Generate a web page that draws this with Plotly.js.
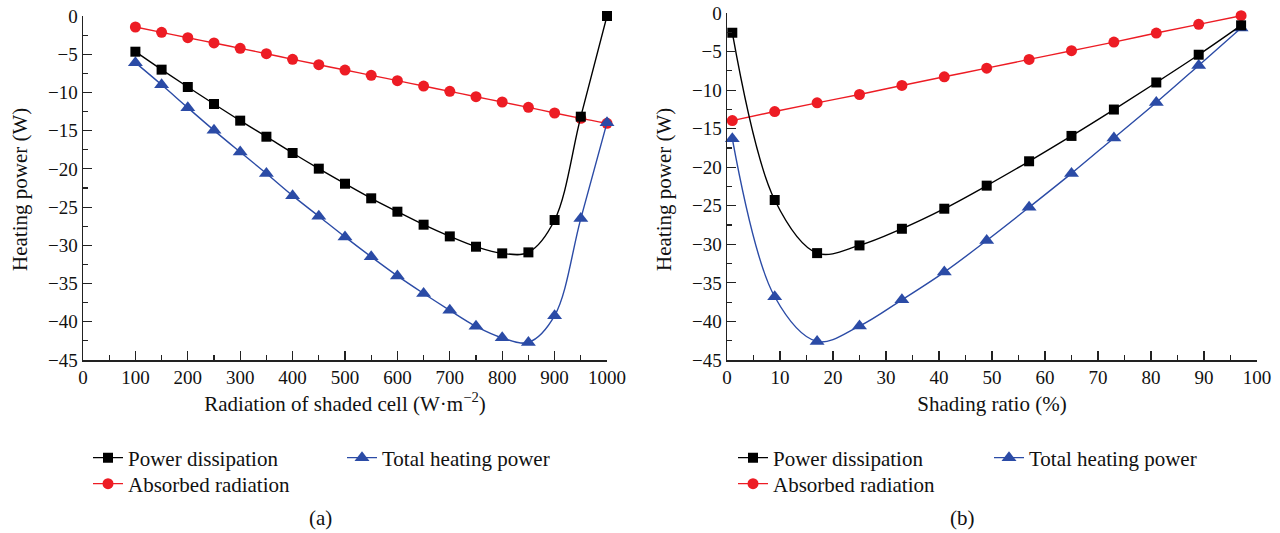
<!DOCTYPE html>
<html>
<head>
<meta charset="utf-8">
<script src="https://cdn.plot.ly/plotly-3.0.1.min.js"></script>
<style>html,body{margin:0;padding:0;background:#fff;}#chart{width:1280px;height:533px;}</style>
</head>
<body>
<div id="chart"></div>
<script>
// Panel (a): radiation of shaded cell (W/m2)
const radiationA = [100,150,200,250,300,350,400,450,500,550,600,650,700,750,800,850,900,950,1000];
const powerDissA = [-4.67,-7.02,-9.29,-11.51,-13.69,-15.79,-17.92,-19.97,-21.94,-23.85,-25.60,-27.30,-28.83,-30.18,-31.05,-30.92,-26.69,-13.17,0];
const absorbedA = [-1.44,-2.14,-2.84,-3.53,-4.23,-4.93,-5.67,-6.37,-7.07,-7.76,-8.46,-9.16,-9.86,-10.56,-11.25,-11.95,-12.69,-13.39,-14.04];
const totalA = [-6.1,-9.0,-12.0,-14.96,-17.8,-20.6,-23.5,-26.2,-28.9,-31.5,-34.0,-36.3,-38.5,-40.6,-42.1,-42.7,-39.2,-26.5,-13.95];

// Panel (b): shading ratio (%)
const shadingB = [1,9,17,25,33,41,49,57,65,73,81,89,97];
const powerDissB = [-2.56,-24.25,-31.14,-30.14,-27.98,-25.38,-22.39,-19.23,-15.94,-12.52,-9.01,-5.41,-1.60];
const absorbedB = [-13.95,-12.78,-11.65,-10.57,-9.40,-8.27,-7.15,-6.02,-4.89,-3.77,-2.60,-1.47,-0.35];
const totalB = [-16.3,-36.8,-42.6,-40.6,-37.2,-33.6,-29.5,-25.2,-20.8,-16.2,-11.6,-6.8,-1.95];

const seriesNames = ["Power dissipation","Absorbed radiation","Total heating power"];
const xTitles = ["Radiation of shaded cell (W·m<sup>−2</sup>)","Shading ratio (%)"];
const yTitle = "Heating power (W)";
const panelLabels = ["(a)","(b)"];

const FONT = "'Liberation Serif', 'Times New Roman', serif";
const BLACK = "#000000", RED = "#ED1C24", BLUE = "#2B4BA6";
const TICK_SIZE = 19, TEXT_SIZE = 21;

function mk(x, y, name, color, symbol, size, xa, ya, leg) {
  return {
    x: x, y: y, name: name, type: "scatter", mode: "lines+markers",
    xaxis: xa, yaxis: ya, legend: leg, cliponaxis: false,
    line: {color: color, width: 1.4, shape: "spline", smoothing: 1},
    marker: {color: color, symbol: symbol, size: size, line: {width: 0}}
  };
}

const traces = [
  mk(radiationA, absorbedA, seriesNames[1], RED, "circle", 11, "x", "y", "legend2"),
  mk(radiationA, totalA, seriesNames[2], BLUE, "triangle-up", 13, "x", "y", "legend3"),
  mk(radiationA, powerDissA, seriesNames[0], BLACK, "square", 10, "x", "y", "legend"),
  mk(shadingB, absorbedB, seriesNames[1], RED, "circle", 11, "x2", "y2", "legend5"),
  mk(shadingB, totalB, seriesNames[2], BLUE, "triangle-up", 13, "x2", "y2", "legend6"),
  mk(shadingB, powerDissB, seriesNames[0], BLACK, "square", 10, "x2", "y2", "legend4")
];

const W = 1280, H = 533;
const px = v => v / W, py = v => 1 - v / H;

function xaxis(domain, range, dtick, minorDtick, anchor, title) {
  return {
    domain: domain, range: range, anchor: anchor, showgrid: false, zeroline: false,
    showline: true, linecolor: "#222", linewidth: 1.5,
    ticks: "inside", ticklen: 9, tickwidth: 1.2, tickcolor: "#222", dtick: dtick, tick0: 0,
    minor: {ticks: "inside", ticklen: 5, tickwidth: 1.2, tickcolor: "#222", dtick: minorDtick, tick0: 0, showgrid: false},
    tickfont: {family: FONT, size: TICK_SIZE, color: "#111"},
    title: {text: title, font: {family: FONT, size: TEXT_SIZE, color: "#111"}, standoff: 9},
    automargin: false, fixedrange: true
  };
}
function yaxis(domain, anchor) {
  return {
    domain: domain, range: [-45, 0], anchor: anchor, showgrid: false, zeroline: false,
    showline: true, linecolor: "#222", linewidth: 1.5,
    ticks: "inside", ticklen: 9, tickwidth: 1.2, tickcolor: "#222", dtick: 5, tick0: 0,
    minor: {ticks: "inside", ticklen: 5, tickwidth: 1.2, tickcolor: "#222", dtick: 2.5, tick0: 0, showgrid: false},
    tickfont: {family: FONT, size: TICK_SIZE, color: "#111"},
    automargin: false, fixedrange: true
  };
}
function legendAt(x, y) {
  return {x: px(x), y: py(y), xanchor: "left", yanchor: "middle", bgcolor: "rgba(0,0,0,0)",
    borderwidth: 0, font: {family: FONT, size: TEXT_SIZE, color: "#111"}, itemwidth: 30, tracegroupgap: 0};
}
function ann(text, x, y, angle) {
  return {text: text, xref: "paper", yref: "paper", x: px(x), y: py(y), xanchor: "center", yanchor: "middle",
    textangle: angle || 0, showarrow: false, font: {family: FONT, size: TEXT_SIZE, color: "#111"}};
}

const layout = {
  width: W, height: H, paper_bgcolor: "#fff", plot_bgcolor: "#fff",
  margin: {l: 0, r: 0, t: 0, b: 0}, showlegend: true,
  font: {family: FONT, color: "#111"},
  xaxis: xaxis([px(83), px(607)], [0, 1000], 100, 50, "y", xTitles[0]),
  yaxis: yaxis([py(360), py(16)], "x"),
  xaxis2: xaxis([px(727), px(1257)], [0, 100], 10, 5, "y2", xTitles[1]),
  yaxis2: yaxis([py(360), py(13)], "x2"),
  legend: legendAt(88, 458),
  legend2: legendAt(88, 484),
  legend3: legendAt(342, 458),
  legend4: legendAt(733, 458),
  legend5: legendAt(733, 484),
  legend6: legendAt(989, 458),
  annotations: [
    ann(yTitle, 20, 190, -90),
    ann(yTitle, 664, 190, -90),
    ann(panelLabels[0], 320, 518),
    ann(panelLabels[1], 962, 518)
  ]
};

Plotly.newPlot("chart", traces, layout, {staticPlot: true, displayModeBar: false});
</script>
</body>
</html>
